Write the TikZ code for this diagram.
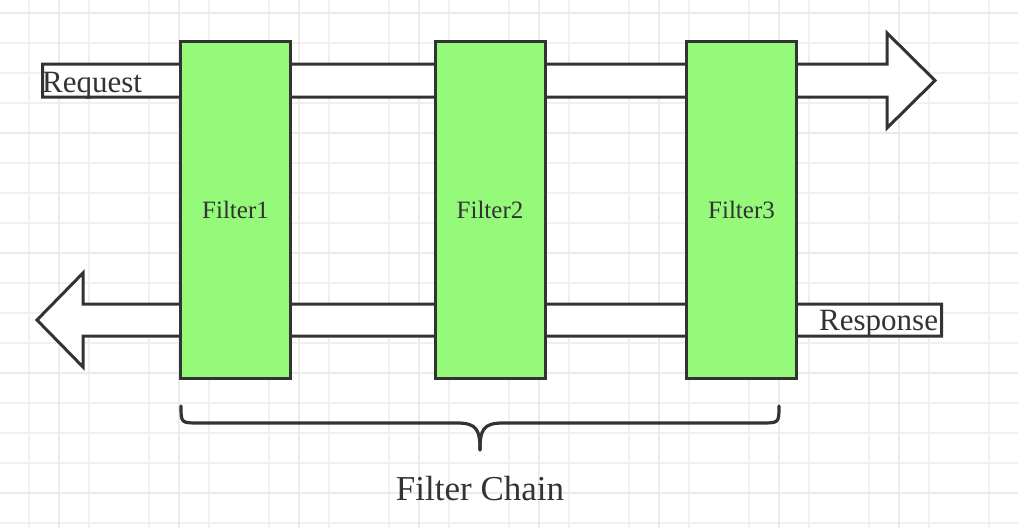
\documentclass[tikz,border=0pt]{standalone}
\usepackage{fontspec}
\setmainfont{LiberationSerif}[Extension=.ttf,UprightFont=*-Regular,BoldFont=*-Bold,ItalicFont=*-Italic]
\definecolor{ink}{HTML}{333333}
\definecolor{filtergreen}{HTML}{95F97A}
\definecolor{gridminor}{HTML}{F0F0F0}
\definecolor{gridmajor}{HTML}{EBEBEB}
\begin{document}
\begin{tikzpicture}[x=1pt,y=-1pt,
  filterbox/.style={draw=ink,fill=filtergreen,line width=3pt,minimum width=110pt,minimum height=337pt,inner sep=0pt,text=ink,font=\fontsize{25}{25}\selectfont},
  flowarrow/.style={draw=ink,fill=white,line width=3pt,line join=miter},
  lbl/.style={text=ink,inner sep=0pt},
  bracepath/.style={draw=ink,line width=3.2pt,line cap=round,line join=round}]
\useasboundingbox (0,0) rectangle (1018,528);
\fill[white] (0,0) rectangle (1018,528);
% grid
\foreach \x in {29,89,...,1018} \draw[gridminor,line width=1.3pt] (\x,0) -- (\x,528);
\foreach \y in {13,43,...,528} \draw[gridminor,line width=1.3pt] (0,\y) -- (1018,\y);
\foreach \x in {59,179,...,1018} \draw[gridmajor,line width=2pt] (\x,0) -- (\x,528);
\foreach \y in {13,133,...,528} \draw[gridmajor,line width=2pt] (0,\y) -- (1018,\y);
% request arrow
\draw[flowarrow] (42.5,64) -- (887,64) -- (887,33) -- (935,80.5) -- (887,128) -- (887,97) -- (42.5,97) -- cycle;
% response arrow
\draw[flowarrow] (941.5,304) -- (83,304) -- (83,273) -- (37,320) -- (83,367) -- (83,336) -- (941.5,336) -- cycle;
% filters
\node[filterbox] (f1) at (235.5,210) {Filter1};
\node[filterbox] (f2) at (490,210) {Filter2};
\node[filterbox] (f3) at (741.5,210) {Filter3};
% labels
\node[lbl,anchor=base west,font=\fontsize{31}{31}\selectfont] (req) at (42,92) {Request};
\node[lbl,anchor=base west,font=\fontsize{31}{31}\selectfont] (resp) at (819,330) {Response};
% brace
\draw[bracepath] (181,406) .. controls (181,423) and (181,423) .. (199,423) -- (457,423) .. controls (477,423) and (480,430) .. (480,450);
\draw[bracepath] (779,406) .. controls (779,423) and (779,423) .. (761,423) -- (503,423) .. controls (483,423) and (480,430) .. (480,450);
\node[lbl,anchor=base,font=\fontsize{35}{35}\selectfont] (chain) at (480,500) {Filter Chain};
\end{tikzpicture}
\end{document}
